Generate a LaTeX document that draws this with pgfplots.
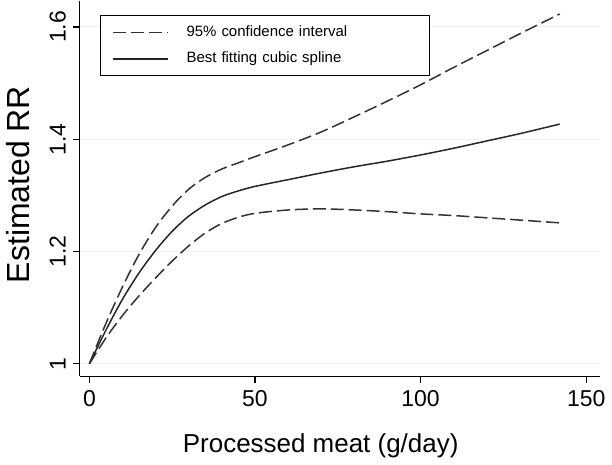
\documentclass[border=0pt]{standalone}
\usepackage{pgfplots}
\pgfplotsset{compat=1.18}
\usepackage{fontspec}
\setmainfont{Liberation Sans}

\begin{document}
\begin{tikzpicture}
\begin{axis}[
    scale only axis,
    width=260.5pt, height=188pt,
    xmin=-2.9, xmax=154.2,
    ymin=0.978, ymax=1.647,
    axis lines=left,
    axis line style={-, black, line width=0.6pt},
    xtick={0,50,100,150},
    ytick={1,1.2,1.4,1.6},
    tick align=outside,
    major tick length=3.5pt,
    tick style={black, line width=0.6pt},
    ymajorgrids,
    grid style={gray!10, line width=0.5pt},
    /pgf/number format/assume math mode=true,
    ticklabel style={font=\fontsize{11.5}{13}\selectfont},
    yticklabel style={rotate=90, anchor=south},
    xlabel={Processed meat (g/day)},
    ylabel={Estimated RR},
    xlabel style={font=\fontsize{13}{15}\selectfont, at={(axis description cs:0.463,-0.185)}, anchor=center},
    ylabel style={font=\fontsize{16}{18}\selectfont, at={(axis description cs:-0.118,0.51)}, anchor=center},
    legend style={at={(axis description cs:0.038,0.962)}, anchor=north west,
      draw=black, line width=0.6pt, inner xsep=6pt, inner ysep=3.5pt, row sep=3.3pt,
      font=\fontsize{7.5}{9}\selectfont,
      nodes={text width=114pt, align=left, inner sep=1.5pt}},
    legend cell align=left,
    legend image code/.code={\draw[#1] (0pt,0pt) -- (27.5pt,0pt); \path (35pt,0pt);},
]
\addplot[black!80, line width=0.75pt, dash pattern=on 6.5pt off 2.5pt, smooth] coordinates {
(0,1.000) (5,1.072) (10,1.137) (15,1.195) (20,1.243) (25,1.281) (30,1.311) (35,1.332) (40,1.347) (45,1.358) (50,1.369) (60,1.390) (70,1.413) (80,1.440) (90,1.468) (100,1.497) (110,1.528) (120,1.558) (130,1.588) (142,1.623)};
\addlegendentry{95\% confidence interval}
\addplot[black!85, line width=0.75pt, smooth] coordinates {
(0,1.000) (5,1.060) (10,1.115) (15,1.162) (20,1.202) (25,1.236) (30,1.263) (35,1.283) (40,1.298) (45,1.308) (50,1.316) (60,1.328) (70,1.340) (80,1.351) (90,1.361) (100,1.372) (110,1.384) (120,1.397) (130,1.410) (142,1.427)};
\addlegendentry{Best fitting cubic spline}
\addplot[black!80, line width=0.75pt, dash pattern=on 6.5pt off 2.5pt, smooth, forget plot] coordinates {
(0,1.000) (5,1.046) (10,1.086) (15,1.121) (20,1.153) (25,1.183) (30,1.210) (35,1.233) (40,1.250) (45,1.261) (50,1.268) (60,1.274) (70,1.276) (80,1.274) (90,1.271) (100,1.267) (110,1.264) (120,1.260) (130,1.256) (142,1.251)};
\end{axis}
\end{tikzpicture}
\end{document}
